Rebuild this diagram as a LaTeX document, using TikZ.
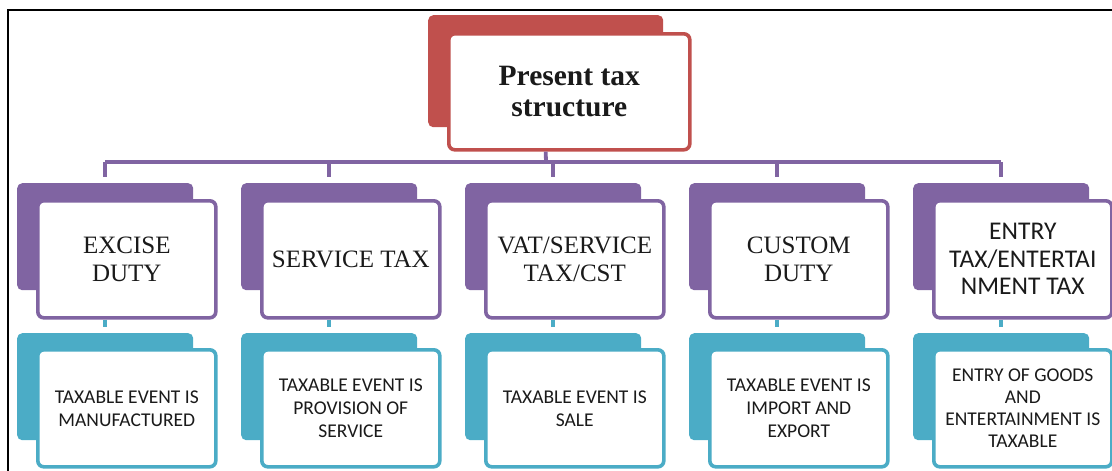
\documentclass[tikz,border=0pt]{standalone}
\usepackage{fontspec}
\setmainfont{Liberation Serif}
\newfontfamily\calibrifont{Carlito}
\definecolor{tred}{HTML}{C0504D}
\definecolor{tpurple}{HTML}{8064A2}
\definecolor{tteal}{HTML}{4BACC6}
\definecolor{ttext}{HTML}{1A1A1A}
\begin{document}
\begin{tikzpicture}[x=1pt,y=-1pt,
  shbox/.style={fill=#1, draw=none, rounded corners=5pt, anchor=north west,
    minimum width=176pt, minimum height=107pt, inner sep=0pt},
  frbox/.style={fill=white, draw=#1, line width=3.6pt, rounded corners=6pt,
    anchor=north west, minimum width=178pt, minimum height=117pt,
    align=center, inner sep=2pt, text=ttext},
  ltwo/.style={font=\fontsize{25}{27.5}\selectfont},
  ltwosans/.style={font=\calibrifont\fontsize{25.5}{27.5}\selectfont},
  lthree/.style={font=\calibrifont\fontsize{19.5}{23}\selectfont},
  lthreetight/.style={font=\calibrifont\fontsize{19.5}{21.8}\selectfont},
  pconn/.style={draw=tpurple, line width=3.8pt},
  tconn/.style={draw=tteal, line width=3.8pt},
]
\useasboundingbox (0,0) rectangle (1112,471);
% frame
\draw[line width=2.2pt] (8,471) -- (8,10) -- (1112,10);

% top node
\node[shbox=tred, minimum width=235pt, minimum height=112pt] (topsh) at (428,15) {};
\node[frbox=tred, minimum width=241pt, minimum height=116pt,
      font=\bfseries\fontsize{29.5}{31}\selectfont] (top) at (447,32) {Present tax\\structure};

% level 2 and level 3
\foreach \i/\xl/\lab/\sty/\labb/\styb in {
  1/17/{EXCISE\\DUTY}/ltwo/{TAXABLE EVENT IS\\MANUFACTURED}/lthree,
  2/241/{SERVICE TAX}/ltwo/{TAXABLE EVENT IS\\PROVISION OF\\SERVICE}/lthree,
  3/465/{VAT/SERVICE\\TAX/CST}/ltwo/{TAXABLE EVENT IS\\SALE}/lthree,
  4/689/{CUSTOM\\DUTY}/ltwo/{TAXABLE EVENT IS\\IMPORT AND\\EXPORT}/lthree,
  5/913/{ENTRY\\TAX/ENTERTAI\\NMENT TAX}/ltwosans/{ENTRY OF GOODS\\AND\\ENTERTAINMENT IS\\TAXABLE}/lthreetight}{
  \node[shbox=tpurple] (sa\i) at (\xl,183) {};
  \node[frbox=tpurple, \sty] (fa\i) at (\xl+19,199) {\lab};
  \node[shbox=tteal] (sb\i) at (\xl,333) {};
  \node[frbox=tteal, \styb] (fb\i) at (\xl+19,348) {\labb};
}

% connectors
\coordinate (bar) at (546,162);
\draw[pconn] (topsh.center |- top.south) -- (bar);
\draw[pconn] (sa1.north |- bar) -- (sa5.north |- bar);
\foreach \i in {1,...,5}{
  \draw[pconn, shorten >=6pt] (sa\i.north |- bar) -- (sa\i.north);
  \draw[tconn, shorten >=6pt] (sa\i.center |- fa\i.south) -- (sb\i.north);
}
\end{tikzpicture}
\end{document}
